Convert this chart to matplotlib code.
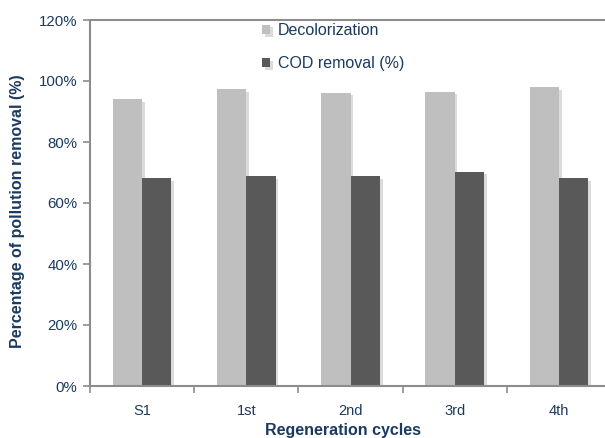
import matplotlib.pyplot as plt
import matplotlib.patheffects as pe
import numpy as np

categories = ["S1", "1st", "2nd", "3rd", "4th"]
decolorization = [94.1, 97.3, 96.2, 96.5, 98.1]
cod_removal = [68.1, 68.9, 68.9, 70.3, 68.1]
yticks = [0, 20, 40, 60, 80, 100, 120]

TXT = "#1b3a5f"
AX = "#8c8c8c"
plt.rcParams["font.family"] = ["Liberation Sans", "DejaVu Sans"]

fig = plt.figure(figsize=(6.05, 4.38), dpi=100)
ax = fig.add_axes([90 / 605, 52 / 438, 521 / 605, 366 / 438])

x = np.arange(len(categories))
w = 0.282
shadow = [pe.SimplePatchShadow(offset=(2, -2), shadow_rgbFace="#8a8a8a", alpha=0.3), pe.Normal()]
ax.bar(x - w / 2, decolorization, w, color="#bfbfbf", label="Decolorization", path_effects=shadow, zorder=2)
ax.bar(x + w / 2, cod_removal, w, color="#595959", label="COD removal (%)", path_effects=shadow, zorder=2)

ax.set_xlim(-0.5, 4.5)
ax.set_ylim(0, 120)
ax.set_yticks(yticks)
ax.set_yticklabels([f"{v}%" for v in yticks])
ax.set_xticks(x)
ax.set_xticklabels(categories)
ax.set_xticks(np.arange(-0.5, 5.0, 1.0), minor=True)
ax.tick_params(axis="x", which="major", length=0, pad=13, labelsize=10.5, labelcolor=TXT)
ax.tick_params(axis="x", which="minor", length=5, width=1.2, color=AX, direction="out")
ax.tick_params(axis="y", length=5, width=1.2, color=AX, labelsize=10.8, labelcolor=TXT, pad=4)

for s in ["left", "bottom", "top"]:
    ax.spines[s].set_color(AX)
    ax.spines[s].set_linewidth(1.5)
ax.spines["right"].set_visible(False)

fig.text(18 / 605, 1 - 211 / 438, "Percentage of pollution removal (%)", rotation=90,
         ha="center", va="center", fontsize=11.5, fontweight="bold", color=TXT)
fig.text(343 / 605, 1 - 430 / 438, "Regeneration cycles",
         ha="center", va="center", fontsize=11.5, fontweight="bold", color=TXT)

fig.legend(loc="upper left", bbox_to_anchor=(262 / 605, 1 - 23 / 438), frameon=False,
           fontsize=11.5, labelcolor=TXT, handlelength=0.53, handleheight=0.53,
           handletextpad=0.45, labelspacing=1.15, borderpad=0, borderaxespad=0)

fig.savefig("out.png", dpi=100)
